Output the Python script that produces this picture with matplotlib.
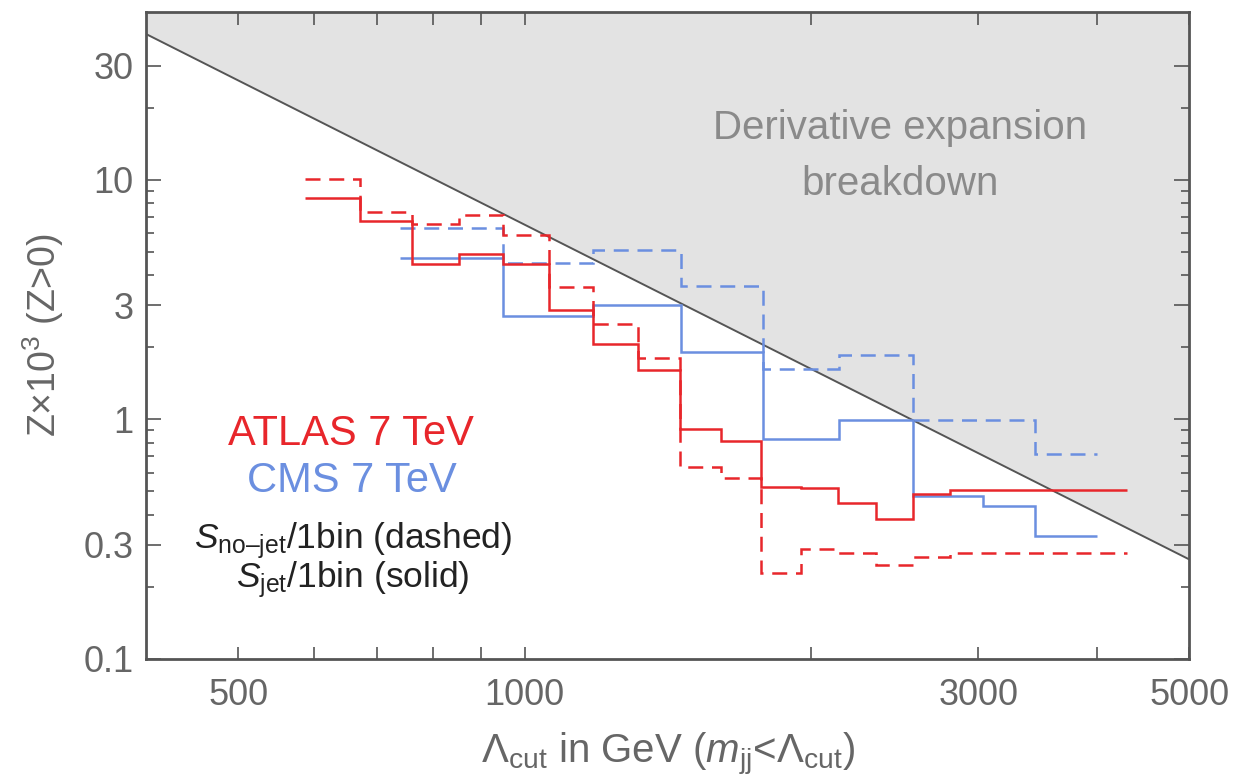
import matplotlib
matplotlib.use("Agg")
import matplotlib.pyplot as plt
from matplotlib.ticker import FixedLocator, NullFormatter, FixedFormatter

plt.rcParams['font.family'] = ['Liberation Sans', 'DejaVu Sans']
plt.rcParams['mathtext.fontset'] = 'custom'
plt.rcParams['mathtext.rm'] = 'Liberation Sans'
plt.rcParams['mathtext.it'] = 'Liberation Sans:italic'
plt.rcParams['mathtext.bf'] = 'Liberation Sans:bold'

# ATLAS 7 TeV cut values (GeV) and significances Z x 10^3
atlas_edges = [588, 672, 762, 852, 950, 1060, 1180, 1315, 1456, 1608,
               1772, 1952, 2135, 2339, 2560, 2800, 4300]
atlas_jet = [8.41, 6.75, 4.47, 4.92, 4.47, 2.87, 2.07, 1.60, 0.91, 0.81,
             0.52, 0.516, 0.447, 0.383, 0.49, 0.506]
atlas_nojet = [10.1, 7.35, 6.56, 7.15, 5.9, 3.58, 2.51, 1.81, 0.63, 0.568,
               0.228, 0.287, 0.277, 0.246, 0.266, 0.277]

# CMS 7 TeV
cms_edges = [740, 950, 1180, 1460, 1780, 2140, 2560, 3030, 3440, 4000]
cms_jet = [4.73, 2.71, 3.01, 1.92, 0.826, 0.99, 0.48, 0.434, 0.325]
cms_nojet = [6.31, 4.51, 5.11, 3.62, 1.63, 1.85, 0.99, 0.99, 0.715]

# breakdown boundary of the derivative expansion
bound_x = [400, 5000]
bound_z = [40.6, 0.26]

red = '#e8262b'
blue = '#6b8fe0'
grey_txt = '#666666'

fig = plt.figure(figsize=(12.39, 7.77), dpi=100)
ax = fig.add_axes([0.118, 0.152, 0.842, 0.832])

ax.set_xscale('log')
ax.set_yscale('log')
ax.set_xlim(400, 5000)
ax.set_ylim(0.1, 50)

ax.fill_between(bound_x, bound_z, [50, 50], color='#e3e3e3', lw=0, zorder=0)
ax.plot(bound_x, bound_z, color='#555555', lw=1.4, zorder=1)

dash = (6, 3.5)
ax.stairs(atlas_nojet, atlas_edges, color=red, lw=1.8, linestyle=(0, dash), baseline=None, zorder=3)
ax.stairs(atlas_jet, atlas_edges, color=red, lw=1.8, baseline=None, zorder=3)
ax.stairs(cms_nojet, cms_edges, color=blue, lw=1.8, linestyle=(0, dash), baseline=None, zorder=2)
ax.stairs(cms_jet, cms_edges, color=blue, lw=1.8, baseline=None, zorder=2)

# ticks
ax.xaxis.set_major_locator(FixedLocator([500, 1000, 3000, 5000]))
ax.xaxis.set_major_formatter(FixedFormatter(['500', '1000', '3000', '5000']))
ax.xaxis.set_minor_locator(FixedLocator([600, 700, 800, 900, 2000, 4000]))
ax.xaxis.set_minor_formatter(NullFormatter())
ax.yaxis.set_major_locator(FixedLocator([0.1, 0.3, 1, 3, 10, 30]))
ax.yaxis.set_major_formatter(FixedFormatter(['0.1', '0.3', '1', '3', '10', '30']))
ax.yaxis.set_minor_locator(FixedLocator([0.2, 0.4, 0.5, 0.6, 0.7, 0.8, 0.9,
                                         2, 4, 5, 6, 7, 8, 9, 20]))
ax.yaxis.set_minor_formatter(NullFormatter())

ax.tick_params(which='both', direction='in', top=True, right=True,
               colors='#555555', labelcolor=grey_txt, labelsize=26, width=1.2)
ax.tick_params(axis='x', which='both', length=9, pad=14)
ax.tick_params(axis='y', which='major', length=11, pad=9)
ax.tick_params(axis='y', which='minor', length=6)

for s in ax.spines.values():
    s.set_color('#555555')
    s.set_linewidth(2.0)

ax.set_xlabel(r'Λ$_{\rm cut}$ in GeV ($m_{\rm jj}$<Λ$_{\rm cut}$)', fontsize=29,
              color=grey_txt, labelpad=13)
ax.set_ylabel('Z×10$^{3}$ (Z>0)', fontsize=27, color=grey_txt, labelpad=13)

ax.text(0.723, 0.822, 'Derivative expansion', transform=ax.transAxes,
        ha='center', va='center', fontsize=29, color='#8a8a8a')
ax.text(0.723, 0.734, 'breakdown', transform=ax.transAxes,
        ha='center', va='center', fontsize=29, color='#8a8a8a')

ax.text(0.1966, 0.331, 'ATLAS 7 TeV', transform=ax.transAxes,
        ha='center', va='baseline', fontsize=30, color=red)
ax.text(0.197, 0.2585, 'CMS 7 TeV', transform=ax.transAxes,
        ha='center', va='baseline', fontsize=30, color=blue)
ax.text(0.1985, 0.171, r'$S_{\rm no–jet}$/1bin (dashed)', transform=ax.transAxes,
        ha='center', va='baseline', fontsize=25.5, color='#222222')
ax.text(0.198, 0.1115, r'$S_{\rm jet}$/1bin (solid)', transform=ax.transAxes,
        ha='center', va='baseline', fontsize=25.5, color='#222222')

fig.savefig('out.png', dpi=100)
